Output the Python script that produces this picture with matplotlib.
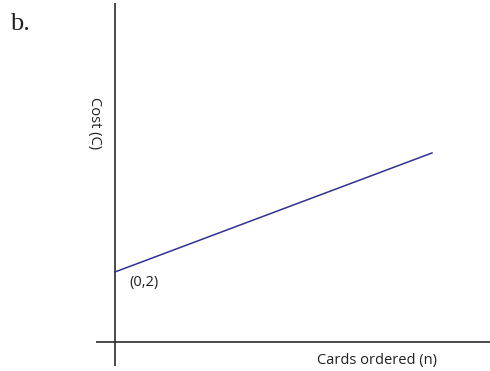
import matplotlib.pyplot as plt

# cost line: C = 2 at n = 0, rising to the right
n = [0, 10]
C = [2, 5.4]

point_label = '(0,2)'
x_label = 'Cards ordered (n)'
y_label = 'Cost (C)'
part = 'b.'

fig = plt.figure(figsize=(4.9, 3.71), dpi=100)
ax = fig.add_axes([0, 0, 1, 1])
ax.set_xlim(-3.63, 11.83)
ax.set_ylim(-0.83, 9.77)
ax.axis('off')

axis_col = '#2b2b2b'
# axes drawn as crossing lines a little past the origin
ax.plot([-0.6, 11.83], [0, 0], color=axis_col, lw=1.2, solid_capstyle='butt')
ax.plot([0, 0], [-0.69, 9.69], color=axis_col, lw=1.2, solid_capstyle='butt')

ax.plot(n, C, color='#2e3192', lw=1.1)

txt = dict(fontsize=10.5, family='Open Sans', color='#231f20')
ax.text(0.91, 1.71, point_label, ha='center', va='center', **txt)
ax.text(8.26, -0.54, x_label, ha='center', va='center', **txt)
ax.text(-0.66, 6.26, y_label, ha='center', va='center', rotation=270, **txt)

fig.text(10 / 490, 1 - 30 / 371, part, ha='left', va='baseline',
         fontsize=19, family='Liberation Serif', color='#231f20')

fig.savefig('out.png', dpi=100)
